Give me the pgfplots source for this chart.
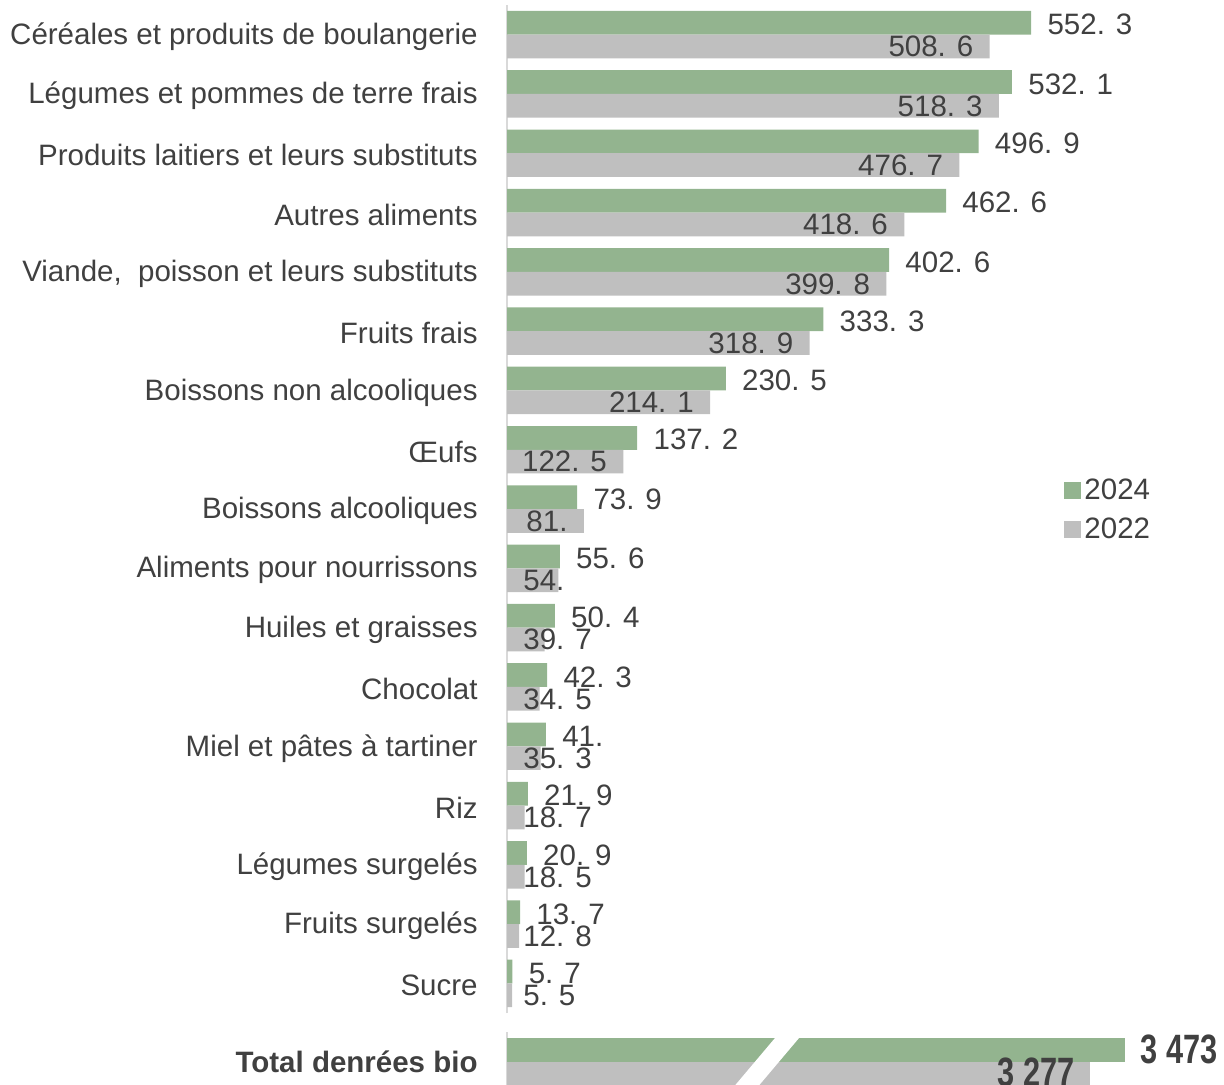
\documentclass[border=0pt]{standalone}
\usepackage{pgfplots}
\pgfplotsset{compat=1.18}
\usepackage{fontspec}
\setmainfont{Liberation Sans}
\newfontfamily\condfont{Liberation Sans}[FakeStretch=0.75]
\definecolor{g24}{HTML}{93B48F}
\definecolor{g22}{HTML}{BFBFBF}
\definecolor{txt}{HTML}{404040}
\definecolor{axl}{HTML}{D9D9D9}
\begin{document}
\begin{tikzpicture}[font=\fontsize{14.75pt}{17pt}\selectfont, text=txt]
\path[use as bounding box] (0,0) rectangle (612pt,-542.5pt);
\begin{axis}[
  at={(253.5pt,-2.5pt)}, anchor=north west,
  scale only axis,
  x=0.4745pt, y=29.65pt,
  xmin=0, xmax=755, ymin=-0.5, ymax=16.5,
  axis x line=none,
  axis y line=left,
  y axis line style={draw=axl, line width=1pt, -},
  ytick={0,...,16},
  yticklabels={Sucre, Fruits surgelés, Légumes surgelés, Riz, Miel et pâtes à tartiner, Chocolat, Huiles et graisses, Aliments pour nourrissons, Boissons alcooliques, Œufs, Boissons non alcooliques, Fruits frais, {Viande,~ poisson et leurs substituts}, Autres aliments, Produits laitiers et leurs substituts, Légumes et pommes de terre frais, Céréales et produits de boulangerie},
  major tick length=0pt,
  yticklabel style={anchor=east, inner sep=0pt, xshift=-14.5pt, yshift=-1pt, text=txt, font=\fontsize{14.75pt}{17pt}\selectfont},
  legend style={draw=none, fill=none, at={(0.7775,0.499)}, anchor=west, inner sep=0pt, row sep=5pt,
    cells={anchor=west}, nodes={inner sep=1.5pt, xshift=1pt, text=txt, font=\fontsize{14.75pt}{17pt}\selectfont}},
  legend image code/.code={\fill[#1] (-1pt,-4.25pt) rectangle (7.5pt,4.25pt);},
]
\addplot[xbar, bar width=0.4, bar shift=0.2, fill=g24, draw=none,
  nodes near coords, point meta=explicit symbolic,
  nodes near coords style={anchor=west, inner sep=0pt, xshift=8pt, yshift=5pt, text=txt, font=\fontsize{14.75pt}{17pt}\selectfont}]
coordinates {
(552.3,16) [552. 3]
(532.1,15) [532. 1]
(496.9,14) [496. 9]
(462.6,13) [462. 6]
(402.6,12) [402. 6]
(333.3,11) [333. 3]
(230.5,10) [230. 5]
(137.2,9) [137. 2]
(73.9,8) [73. 9]
(55.6,7) [55. 6]
(50.4,6) [50. 4]
(42.3,5) [42. 3]
(41.0,4) [41.]
(21.9,3) [21. 9]
(20.9,2) [20. 9]
(13.7,1) [13. 7]
(5.7,0) [5. 7]
};
\addlegendentry{2024}
\addplot[xbar, bar width=0.4, bar shift=-0.2, fill=g22, draw=none]
coordinates {
(508.6,16) (518.3,15) (476.7,14) (418.6,13) (399.8,12) (318.9,11) (214.1,10) (122.5,9)
(81.0,8) (54.0,7) (39.7,6) (34.5,5) (35.3,4) (18.7,3) (18.5,2) (12.8,1) (5.5,0)
};
\addlegendentry{2022}
\addplot[forget plot, xbar, bar width=0.4, bar shift=-0.2, draw=none, fill=none,
  nodes near coords, point meta=explicit symbolic,
  nodes near coords style={anchor=east, inner sep=0pt, xshift=-8pt, yshift=-6pt, text=txt, font=\fontsize{14.75pt}{17pt}\selectfont}]
coordinates {
(508.6,16) [508. 6]
(518.3,15) [518. 3]
(476.7,14) [476. 7]
(418.6,13) [418. 6]
(399.8,12) [399. 8]
(318.9,11) [318. 9]
(214.1,10) [214. 1]
(122.5,9) [122. 5]
(81.0,8) [81.]
};
\addplot[forget plot, xbar, bar width=0.4, bar shift=-0.2, draw=none, fill=none,
  visualization depends on={x \as \rawx},
  nodes near coords, point meta=explicit symbolic,
  nodes near coords style={anchor=west, inner sep=0pt, xshift={8pt-\rawx*0.4745pt}, yshift=-6pt, text=txt, font=\fontsize{14.75pt}{17pt}\selectfont}]
coordinates {
(54.0,7) [54.]
(39.7,6) [39. 7]
(34.5,5) [34. 5]
(35.3,4) [35. 3]
(18.7,3) [18. 7]
(18.5,2) [18. 5]
(12.8,1) [12. 8]
(5.5,0) [5. 5]
};
\end{axis}
\begin{axis}[
  at={(253.5pt,-516pt)}, anchor=north west,
  scale only axis,
  x=0.089pt, y=29.65pt,
  xmin=0, xmax=4028, ymin=-0.4, ymax=0.5,
  axis x line=none,
  axis y line=left,
  y axis line style={draw=axl, line width=1pt, -},
  ytick={0},
  yticklabels={\bfseries Total denrées bio},
  major tick length=0pt,
  yticklabel style={anchor=east, inner sep=0pt, xshift=-14.5pt, text=txt, font=\fontsize{14.75pt}{17pt}\selectfont},
  clip=false,
]
\addplot[xbar, bar width=0.4, bar shift=0.2, fill=g24, draw=none,
  nodes near coords, point meta=explicit symbolic,
  nodes near coords style={anchor=west, inner sep=0pt, xshift=7.5pt, yshift=6pt, text=txt, font=\condfont\bfseries\fontsize{20.5pt}{22pt}\selectfont}]
coordinates {(3473,0) [3 473]};
\addplot[xbar, bar width=0.4, bar shift=-0.2, fill=g22, draw=none,
  nodes near coords, point meta=explicit symbolic,
  nodes near coords style={anchor=east, inner sep=0pt, xshift=-7.5pt, yshift=-5.5pt, text=txt, font=\condfont\bfseries\fontsize{20.5pt}{22pt}\selectfont}]
coordinates {(3277,0) [3 277]};
\fill[white] (axis cs:1520,0.45) -- (axis cs:1655,0.45) -- (axis cs:1402,-0.45) -- (axis cs:1267,-0.45) -- cycle;
\end{axis}
\end{tikzpicture}
\end{document}
